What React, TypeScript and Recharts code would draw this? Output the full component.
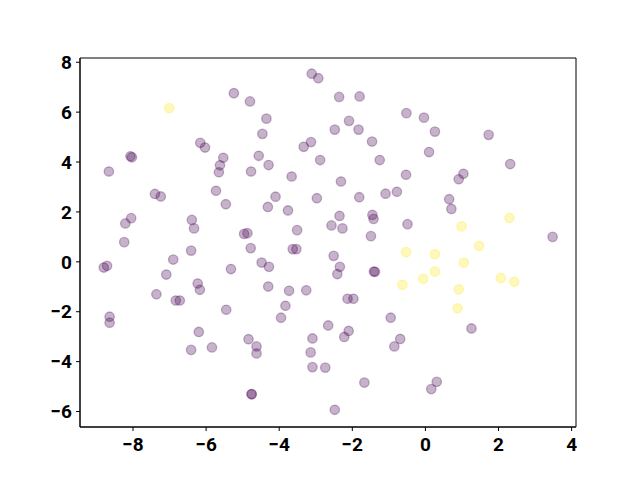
import { ScatterChart, Scatter, XAxis, YAxis, ReferenceArea } from "recharts";

const purpleX = [
  -5.24, -4.8, -6.16, -6.03, -8.07, -8.03, -5.53, -5.62, -5.65, -8.66, -4.77, -7.4, -7.24, -5.73, -5.46,
  -8.05, -8.21, -6.39, -6.33, -4.96, -4.87, -8.24, -4.78, -8.8, -8.71, -6.9, -6.41, -7.09, -5.32, -6.23,
  -6.17, -7.36, -6.83, -6.72, -5.45, -8.64, -8.64, -6.2, -6.41, -5.84, -4.84, -4.76, -4.75, -3.11, -2.93,
  -2.36, -1.8, -0.52, -4.35, -2.09, -2.48, -1.83, -4.46, -1.46, -3.33, -3.13, -4.56, -4.29, -2.88, -1.25,
  -0.53, -3.66, -2.31, -4.1, -4.31, -3.76, -2.97, -1.81, -1.09, -0.78, -2.35, -1.45, -1.42, -0.49, -3.51,
  -2.57, -2.27, -1.49, -3.63, -3.53, -2.51, -2.34, -2.41, -1.41, -1.38, -4.48, -4.28, -4.3, -3.73, -3.26,
  -2.13, -1.97, -3.83, -3.95, -2.66, -2.1, -2.22, -0.95, -0.69, -0.85, -4.62, -4.62, -3.09, -3.14, -3.09,
  -2.74, -1.67, -2.48, -0.04, 0.26, 1.73, 0.1, 2.32, 1.04, 0.91, 0.65, 0.71, 3.48, 1.26, 0.31, 0.16,
];
const purpleY = [
  6.76, 6.43, 4.77, 4.58, 4.23, 4.19, 4.17, 3.87, 3.59, 3.62, 3.62, 2.72, 2.62, 2.85, 2.31,
  1.75, 1.54, 1.68, 1.34, 1.12, 1.15, 0.79, 0.55, -0.23, -0.16, 0.09, 0.45, -0.51, -0.29, -0.87,
  -1.12, -1.3, -1.55, -1.55, -1.92, -2.2, -2.44, -2.81, -3.53, -3.43, -3.1, -5.3, -5.31, 7.54, 7.36,
  6.61, 6.63, 5.96, 5.74, 5.65, 5.3, 5.3, 5.13, 4.82, 4.61, 4.8, 4.25, 3.88, 4.08, 4.08,
  3.49, 3.42, 3.22, 2.61, 2.2, 2.06, 2.55, 2.59, 2.73, 2.81, 1.84, 1.88, 1.72, 1.51, 1.27,
  1.46, 1.34, 1.03, 0.51, 0.51, 0.24, -0.2, -0.49, -0.39, -0.4, -0.03, -0.2, -0.99, -1.16, -1.14,
  -1.48, -1.48, -1.76, -2.24, -2.55, -2.77, -3.01, -2.24, -3.09, -3.39, -3.39, -3.67, -3.07, -3.63, -4.22,
  -4.24, -4.84, -5.93, 5.78, 5.22, 5.09, 4.4, 3.92, 3.53, 3.31, 2.51, 2.12, 1.0, -2.67, -4.81, -5.1,
];
const yellowX = [-7.01, -0.53, -0.63, 0.99, 2.3, 0.26, 1.47, 1.05, 0.26, -0.06, 2.06, 2.43, 0.91, 0.88];
const yellowY = [6.16, 0.39, -0.92, 1.42, 1.76, 0.31, 0.64, -0.03, -0.39, -0.68, -0.65, -0.8, -1.1, -1.86];

const xTicks = [-8, -6, -4, -2, 0, 2, 4];
const yTicks = [-6, -4, -2, 0, 2, 4, 6, 8];
const xDomain = [-9.45, 4.12];
const yDomain = [-6.62, 8.17];

const purple = purpleX.map((x, i) => ({ x, y: purpleY[i] }));
const yellow = yellowX.map((x, i) => ({ x, y: yellowY[i] }));

const fmt = (v: number) => (v < 0 ? `\u2212${Math.abs(v)}` : `${v}`);
const tickStyle = { fill: "#000", fontSize: 19, fontWeight: 700, fontFamily: "Roboto, sans-serif" };

const dot = (color: string) => (props: any) => (
  <circle cx={props.cx} cy={props.cy} r={4.7} fill={color} fillOpacity={0.3}
    stroke={color} strokeOpacity={0.3} strokeWidth={1.3} />
);

export default function App() {
  return (
    <div style={{ position: "absolute", left: 0, top: 0, background: "#fff" }}>
      <ScatterChart width={640} height={480} margin={{ top: 58, right: 64, bottom: 0, left: 0 }}>
        <XAxis type="number" dataKey="x" domain={xDomain} ticks={xTicks}
          allowDataOverflow height={53} tickFormatter={fmt} tick={tickStyle}
          tickSize={4} tickMargin={7} stroke="#000" tickLine={{ stroke: "#000" }} />
        <YAxis type="number" dataKey="y" domain={yDomain} ticks={yTicks}
          allowDataOverflow width={80} tickFormatter={fmt} tick={tickStyle}
          tickSize={4} tickMargin={4} stroke="#000" tickLine={{ stroke: "#000" }} />
        <ReferenceArea x1={xDomain[0]} x2={xDomain[1]} y1={yDomain[0]} y2={yDomain[1]}
          fill="none" fillOpacity={0} stroke="#000" strokeWidth={1} ifOverflow="visible" />
        <Scatter data={purple} shape={dot("#440154")} isAnimationActive={false} />
        <Scatter data={yellow} shape={dot("#fde725")} isAnimationActive={false} />
      </ScatterChart>
    </div>
  );
}
